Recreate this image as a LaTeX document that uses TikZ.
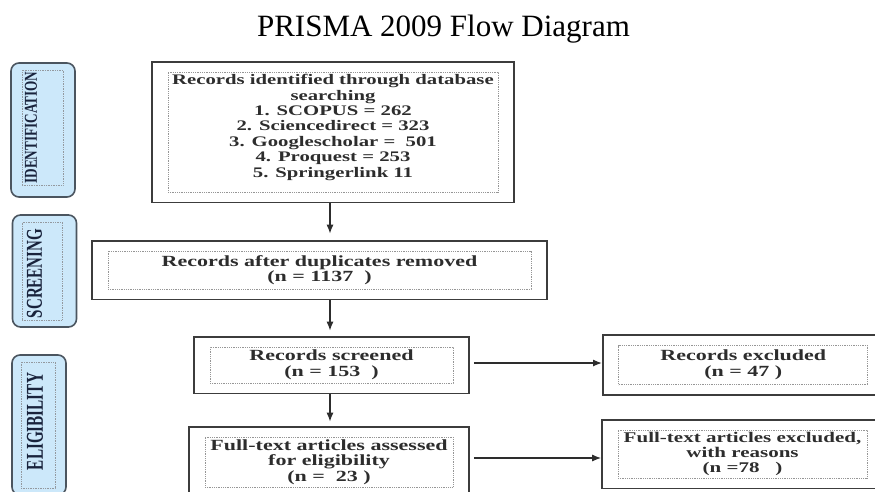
\documentclass[tikz,border=0pt]{standalone}
\usepackage{fontspec}
\setmainfont{Liberation Serif}
\newfontfamily\boxfont[FakeStretch=1.42]{Liberation Serif}
\newfontfamily\phasefont{Liberation Serif}
\usetikzlibrary{
    arrows.meta,
    positioning,
    fit,
    calc,
}

\definecolor{phasefill}{RGB}{204,232,250}
\definecolor{phaseline}{RGB}{75,85,95}
\definecolor{phasetext}{RGB}{25,35,60}
\definecolor{boxline}{RGB}{60,60,60}
\definecolor{dotline}{RGB}{150,150,150}
\definecolor{boxtext}{RGB}{45,45,45}

% squeezed stage name: length, cap height, text
\newcommand{\phaselabel}[3]{\resizebox{#1}{#2}{\phasefont\bfseries #3}}

\begin{document}
\begin{tikzpicture}[
    x=1pt, y=-1pt,
    outerbox/.style={draw=boxline, line width=1.8pt, inner xsep=15.5pt, inner ysep=10pt},
    innerbox/.style={draw=dotline, densely dotted, line width=0.8pt, inner sep=2pt, align=center,
        text=boxtext, font=\boxfont\bfseries\fontsize{15.5}{15.5}\selectfont},
    phase/.style={draw=phaseline, fill=phasefill, rounded corners=8pt, line width=1.6pt},
    phaseframe/.style={draw=phaseline!60, densely dotted, line width=0.7pt},
    phasetitle/.style={rotate=90, anchor=north, inner sep=0pt, text=phasetext},
    flow/.style={-{Latex[length=9pt, width=7pt]}, line width=1.3pt, draw=boxtext},
]

\useasboundingbox (0,0) rectangle (875,491);
\clip (0,0) rectangle (875,491);

\node[font=\fontsize{31}{31}\selectfont, anchor=base] (title) at (443.5,36) {PRISMA 2009 Flow Diagram};

% stages on the left
\node[phase, minimum width=64pt, minimum height=134pt] (identphase) at (43,130) {};
\node[phaseframe, minimum width=41pt, minimum height=115pt] (identframe) at (42.5,127.5) {};
\node[phasetitle] (identtitle) at ([xshift=3pt]identframe.west) {\phaselabel{112pt}{12pt}{IDENTIFICATION}};

\node[phase, minimum width=64pt, minimum height=112pt] (screenphase) at (44.5,271) {};
\node[phaseframe, minimum width=40pt, minimum height=98pt] (screenframe) at (42,271) {};
\node[phasetitle] (screentitle) at ([xshift=5pt, yshift=-2.5pt]screenframe.west) {\phaselabel{89pt}{15pt}{SCREENING}};

\node[phase, minimum width=54pt, minimum height=140pt] (eligphase) at (39,425) {};
\node[phaseframe, minimum width=34pt, minimum height=126pt] (eligframe) at (38,425) {};
\node[phasetitle] (eligtitle) at ([xshift=6pt, yshift=3.5pt]eligframe.west) {\phaselabel{97pt}{16pt}{ELIGIBILITY}};

% records
\node[innerbox, minimum width=330pt, minimum height=120pt, font=\boxfont\bfseries\fontsize{14.6}{15.4}\selectfont] (ident) at (333,132)
    {Records identified through database\\ searching\\ 1. SCOPUS = 262\\ 2. Sciencedirect = 323\\
     3. Googlescholar = \ 501\\ 4. Proquest = 253\\ 5. Springerlink 11\\[-3pt]\mbox{}};
\node[innerbox, minimum width=423pt, minimum height=38pt] (dedup) at (319.5,270)
    {Records after duplicates removed\\ (n = 1137 \ )};
\node[innerbox, minimum width=243pt, minimum height=36pt] (screened) at (331.5,365)
    {Records screened\\ (n = 153 \ )};
\node[innerbox, minimum width=248pt, minimum height=50pt] (fulltext) at (329,462)
    {Full-text articles assessed\\ for eligibility\\ (n = \ 23 )};
\node[innerbox, minimum width=249pt, minimum height=39pt] (excluded) [right=165pt of screened]
    {Records excluded\\ (n = 47 )};
\node[innerbox, minimum width=249pt, minimum height=48pt, inner xsep=0pt, font=\boxfont\bfseries\fontsize{14.8}{14.6}\selectfont] (ftexcluded) at (742.5,454)
    {Full-text articles excluded,\\ with reasons\\ (n =78 \ \ )};

\node[outerbox, fit=(ident)] (identbox) {};
\node[outerbox, fit=(dedup)] (dedupbox) {};
\node[outerbox, fit=(screened)] (screenedbox) {};
\node[outerbox, fit=(fulltext)] (fulltextbox) {};
\node[outerbox, fit=(excluded)] (excludedbox) {};
\node[outerbox, fit=(ftexcluded)] (ftexcludedbox) {};

\coordinate (spine) at (330,0);

\draw[flow, shorten >=6pt] (identbox.south -| spine) -- (dedupbox.north -| spine);
\draw[flow, shorten >=5pt] (dedupbox.south -| spine) -- (screenedbox.north -| spine);
\draw[flow, shorten >=4pt] (screenedbox.south -| spine) -- (fulltextbox.north -| spine);
\draw[flow, shorten <=4pt] ([yshift=2pt]screenedbox.east) -- ([yshift=2pt]screenedbox.east -| excludedbox.west);
\draw[flow, shorten <=4pt] ([yshift=4pt]fulltextbox.east) -- ([yshift=4pt]fulltextbox.east -| ftexcludedbox.west);

\end{tikzpicture}
\end{document}
